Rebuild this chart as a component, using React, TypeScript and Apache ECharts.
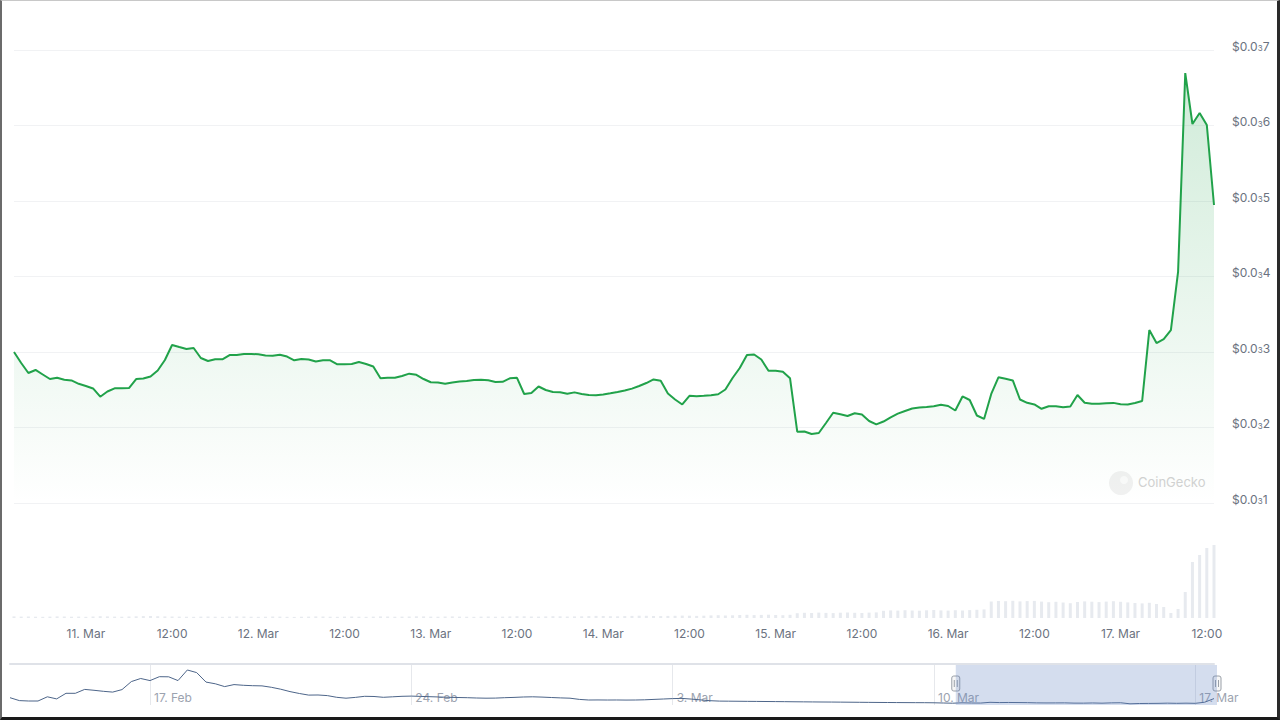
import React, { useEffect, useRef } from "react";
import * as echarts from "echarts";

// Price in units of 0.0001 USD ($0.0₃x), hourly from 10 Mar 14:00
const priceE4 = [
  3.000, 2.854, 2.722, 2.762, 2.702, 2.642, 2.660, 2.633, 2.623, 2.579,
  2.550, 2.517, 2.408, 2.477, 2.519, 2.519, 2.523, 2.642, 2.649, 2.676,
  2.755, 2.894, 3.093, 3.066, 3.040, 3.053, 2.921, 2.881, 2.903, 2.903,
  2.960, 2.960, 2.974, 2.974, 2.970, 2.954, 2.951, 2.964, 2.940, 2.890,
  2.907, 2.901, 2.874, 2.890, 2.890, 2.837, 2.838, 2.841, 2.868, 2.841,
  2.808, 2.652, 2.660, 2.660, 2.682, 2.713, 2.698, 2.642, 2.599, 2.596,
  2.580, 2.596, 2.609, 2.616, 2.629, 2.633, 2.625, 2.603, 2.605, 2.652,
  2.658, 2.444, 2.457, 2.543, 2.497, 2.470, 2.466, 2.446, 2.465, 2.444,
  2.430, 2.428, 2.437, 2.453, 2.470, 2.489, 2.515, 2.550, 2.589, 2.637,
  2.619, 2.449, 2.371, 2.305, 2.420, 2.413, 2.420, 2.428, 2.440, 2.503,
  2.656, 2.788, 2.960, 2.967, 2.901, 2.752, 2.752, 2.738, 2.652, 1.944,
  1.947, 1.914, 1.927, 2.060, 2.195, 2.176, 2.152, 2.188, 2.172, 2.086,
  2.042, 2.079, 2.135, 2.183, 2.219, 2.252, 2.265, 2.272, 2.281, 2.301,
  2.285, 2.225, 2.411, 2.364, 2.159, 2.113, 2.444, 2.665, 2.646, 2.623,
  2.371, 2.327, 2.305, 2.248, 2.281, 2.281, 2.268, 2.278, 2.430, 2.328,
  2.314, 2.315, 2.321, 2.326, 2.307, 2.305, 2.325, 2.351, 3.291, 3.119,
  3.172, 3.291, 4.060, 6.695, 6.020, 6.166, 6.007, 4.947,
];

// Hourly volume (relative units)
const volume = [
  1.6, 1.4, 1.5, 1.3, 1.2, 1.4, 1.6, 1.5, 1.3, 1.4, 1.2, 1.5, 1.8, 1.6, 1.4, 1.3, 1.5, 1.7, 1.9, 2.0, 1.8, 1.6, 1.5, 1.4,
  1.3, 1.2, 1.4, 1.5, 1.3, 1.2, 1.4, 1.6, 1.5, 1.3, 1.2, 1.3, 1.5, 1.4, 1.2, 1.1, 1.3, 1.4, 1.6, 1.5, 1.3, 1.2, 1.4, 1.5,
  1.3, 1.2, 1.4, 1.6, 1.5, 1.3, 1.4, 1.5, 1.7, 1.6, 1.4, 1.3, 1.5, 1.6, 1.4, 1.3, 1.2, 1.4, 1.5, 1.3, 1.4, 1.6, 1.8, 1.7,
  1.5, 1.4, 1.6, 1.8, 1.7, 1.5, 1.6, 1.7, 1.9, 2.1, 2.0, 1.8, 1.7, 1.9, 2.1, 2.3, 2.2, 2.0, 1.9, 2.1, 2.2, 2.4, 2.3, 2.1,
  2.3, 2.6, 2.8, 2.5, 2.7, 3.0, 3.2, 2.9, 3.1, 3.3, 3.0, 2.8, 3.2,
  4.8, 5.2, 5.0, 5.4, 5.1, 4.9, 5.3, 5.5, 5.2, 5.0, 5.4, 5.6,
  7.2, 7.6, 7.4, 7.8, 7.5, 7.3, 7.7, 8.0, 7.6, 7.4, 7.8, 7.5, 7.9, 8.2, 8.6,
  16.5, 17.0, 16.8, 17.2, 16.6, 16.9, 17.1, 16.4, 15.8, 16.2, 15.5, 14.8, 16.0, 16.6, 16.3, 15.9, 16.4, 16.8, 16.2, 15.6, 15.0, 14.6, 15.2, 14.0,
  11.0, 5.0, 9.0, 26.0, 56.0, 63.0, 70.0, 73.0,
];

// Navigator history, 6-hourly from 13 Feb 06:00 (units of 0.0001 USD)
const navPriceE4 = [
  6.70, 4.43, 4.12, 4.12, 7.40, 5.76, 10.13, 10.13, 13.18, 12.48,
  11.69, 11.07, 13.02, 19.27, 21.69, 20.05, 23.09, 23.01, 20.05, 28.32,
  26.29, 18.88, 17.55, 15.36, 16.93, 16.38, 16.07, 15.92, 14.82, 13.33,
  11.46, 9.98, 8.73, 8.81, 8.34, 7.01, 6.31, 6.93, 7.79, 7.64,
  7.01, 7.40, 7.79, 7.95, 7.71, 7.48, 7.25, 7.01, 6.85, 6.70,
  6.46, 6.31, 6.39, 6.70, 6.93, 7.25, 7.40, 7.17, 6.85, 6.54,
  6.31, 5.37, 4.90, 4.95, 4.88, 4.92, 4.85, 4.90, 5.06, 5.37,
  5.68, 6.00, 6.15, 5.61, 4.98, 4.36, 4.04, 3.98, 3.92, 3.85,
  3.80, 3.72, 3.66, 3.60, 3.52, 3.46, 3.40, 3.34, 3.30, 3.24,
  3.18, 3.12, 3.06, 3.00, 2.95, 2.90, 2.86, 2.82, 2.80, 2.72,
  2.56, 2.40, 2.70, 2.55, 2.52, 3.09, 2.90, 2.97, 2.91, 2.84,
  2.66, 2.60, 2.63, 2.66, 2.47, 2.44, 2.59, 2.42, 2.66, 2.75,
  1.93, 2.17, 2.22, 2.29, 2.44, 2.31, 2.43, 2.31, 3.17, 6.01,
];

const yTicks = [1, 2, 3, 4, 5, 6, 7];
const MONTHS = ["Jan", "Feb", "Mar", "Apr"];
const priceStart = { year: 2025, month: 2, day: 10, hour: 14 };
const navStart = { year: 2025, month: 1, day: 13, hour: 6 };

function makeTimes(start: any, stepHours: number, count: number): string[] {
  const out: string[] = [];
  for (let i = 0; i < count; i++) {
    const d = new Date(Date.UTC(start.year, start.month, start.day, start.hour + i * stepHours));
    out.push(d.toISOString().slice(0, 16));
  }
  return out;
}
const priceTimes = makeTimes(priceStart, 1, priceE4.length);
const navTimes = makeTimes(navStart, 6, navPriceE4.length);

function parts(s: string) {
  const d = new Date(s + ":00Z");
  return { day: d.getUTCDate(), mon: MONTHS[d.getUTCMonth()], hour: d.getUTCHours() };
}
const navLabelDays = ["17 Feb", "24 Feb", "3 Mar", "10 Mar", "17 Mar"];

const FONT = "Inter, 'Noto Sans', sans-serif";

export default function App() {
  const ref = useRef<HTMLDivElement>(null);
  useEffect(() => {
    if (!ref.current) return;
    const chart = echarts.init(ref.current, undefined, { renderer: "svg" });
    const showMain = (_i: number, v: string) => parts(v).hour % 12 === 0;
    const showNav = (_i: number, v: string) => {
      const p = parts(v);
      return p.hour === 0 && navLabelDays.includes(`${p.day} ${p.mon}`);
    };
    const option: any = {
      animation: false,
      backgroundColor: "#ffffff",
      textStyle: { fontFamily: FONT },
      grid: [
        { left: 14, top: 50, width: 1200, height: 453 },
        { left: 14, top: 538, width: 1200, height: 80 },
        { left: 10, top: 664, width: 1204, height: 41 },
      ],
      xAxis: [
        { type: "category", gridIndex: 0, data: priceTimes, boundaryGap: false, show: false },
        {
          type: "category", gridIndex: 1, data: priceTimes, boundaryGap: false,
          axisLine: { show: false }, axisTick: { show: false },
          axisLabel: {
            interval: showMain, margin: 9, color: "#6b7280", fontSize: 12, fontFamily: FONT,
            formatter: (v: string) => { const p = parts(v); return p.hour === 0 ? `${p.day}. ${p.mon}` : "12:00"; },
          },
        },
        {
          type: "category", gridIndex: 2, data: navTimes, boundaryGap: false,
          axisLine: { show: false }, axisTick: { show: false },
          axisLabel: {
            inside: true, interval: showNav, align: "left", padding: [0, 0, 0, 4], margin: 2,
            color: "#9ca3af", fontSize: 12, fontFamily: FONT,
            formatter: (v: string) => { const p = parts(v); return `${p.day}. ${p.mon}`; },
          },
          splitLine: { show: true, interval: showNav, lineStyle: { color: "#e6e8ec", width: 1 } },
        },
        {
          type: "category", gridIndex: 2, data: navTimes, boundaryGap: false, position: "top",
          axisLine: { show: true, lineStyle: { color: "#dfe2e8", width: 2 } },
          axisTick: { show: false }, axisLabel: { show: false },
        },
      ],
      yAxis: [
        {
          type: "value", gridIndex: 0, position: "right", min: yTicks[0], max: yTicks[yTicks.length - 1], interval: 1,
          axisLine: { show: false }, axisTick: { show: false },
          splitLine: { lineStyle: { color: "#f1f2f4", width: 1 } },
          axisLabel: {
            margin: 18, color: "#6b7280", fontSize: 12, fontFamily: FONT, padding: [0, 0, 8, 0],
            formatter: (v: number) => `$0.0{s|3}${Math.round(v)}`,
            rich: { s: { fontSize: 8, verticalAlign: "bottom", lineHeight: 8, color: "#6b7280", padding: [4, 0, 0, 0] } },
          },
        },
        { type: "value", gridIndex: 1, min: 0, max: 80, show: false },
        { type: "value", gridIndex: 2, min: 1, max: 33, show: false },
      ],
      series: [
        {
          type: "line", xAxisIndex: 0, yAxisIndex: 0, data: priceE4, symbol: "none",
          lineStyle: { color: "#21a24a", width: 2 },
          itemStyle: { color: "#21a24a" },
          areaStyle: {
            color: new echarts.graphic.LinearGradient(0, 0, 0, 1, [
              { offset: 0, color: "rgba(33,162,74,0.30)" },
              { offset: 1, color: "rgba(33,162,74,0.0)" },
            ]),
          },
          z: 3,
        },
        {
          type: "bar", xAxisIndex: 1, yAxisIndex: 1, data: volume, barWidth: 3,
          itemStyle: { color: "#e7eaef" },
        },
        {
          type: "line", xAxisIndex: 2, yAxisIndex: 2, data: navPriceE4, symbol: "none",
          lineStyle: { color: "#4d6589", width: 1 },
        },
      ],
    };
    chart.setOption(option);

    // navigator selection window (10 Mar 14:00 -> end)
    const px = (i: number) => chart.convertToPixel({ xAxisIndex: 2 } as any, i) as number;
    const selStart = px(101) + (px(102) - px(101)) * (2 / 6);
    const selEnd = px(navPriceE4.length - 1) + 3;
    const handle = (x: number) => ({
      type: "group",
      children: [
        { type: "rect", shape: { x: x - 4, y: 676, width: 8, height: 15, r: 2 }, style: { fill: "#f7f7f7", stroke: "#9aa0a8", lineWidth: 1 } },
        { type: "line", shape: { x1: x - 1.5, y1: 680, x2: x - 1.5, y2: 687 }, style: { stroke: "#9aa0a8", lineWidth: 1 } },
        { type: "line", shape: { x1: x + 1.5, y1: 680, x2: x + 1.5, y2: 687 }, style: { stroke: "#9aa0a8", lineWidth: 1 } },
      ],
    });
    chart.setOption({
      graphic: [
        { type: "rect", shape: { x: selStart, y: 665, width: selEnd - selStart, height: 40 }, style: { fill: "rgba(102,133,194,0.28)" }, z: 10 },
        { ...handle(selStart), z: 11 },
        { ...handle(selEnd), z: 11 },
        { type: "circle", shape: { cx: 1121, cy: 483, r: 12 }, style: { fill: "#f1f1f1" }, z: 1 },
        { type: "circle", shape: { cx: 1124, cy: 480, r: 4 }, style: { fill: "#fafafa" }, z: 1 },
        { type: "text", x: 1138, y: 482, style: { text: "CoinGecko", fill: "#d2d2d2", fontSize: 13, fontFamily: FONT, verticalAlign: "middle" }, z: 1 },
      ],
    });
    return () => chart.dispose();
  }, []);

  return (
    <div style={{ position: "fixed", left: 0, top: 0, width: 1280, height: 720, background: "#fff" }}>
      <div ref={ref} style={{ position: "absolute", left: 0, top: 0, width: 1280, height: 720 }} />
      <div
        style={{
          position: "absolute", left: 0, top: 0, width: 1280, height: 720, boxSizing: "border-box",
          borderLeft: "2px solid #6b6b6b", borderTop: "1px solid #c8c8c8",
          borderRight: "3px solid #2a2a2a", borderBottom: "3px solid #1a1a1a", pointerEvents: "none",
        }}
      />
    </div>
  );
}
